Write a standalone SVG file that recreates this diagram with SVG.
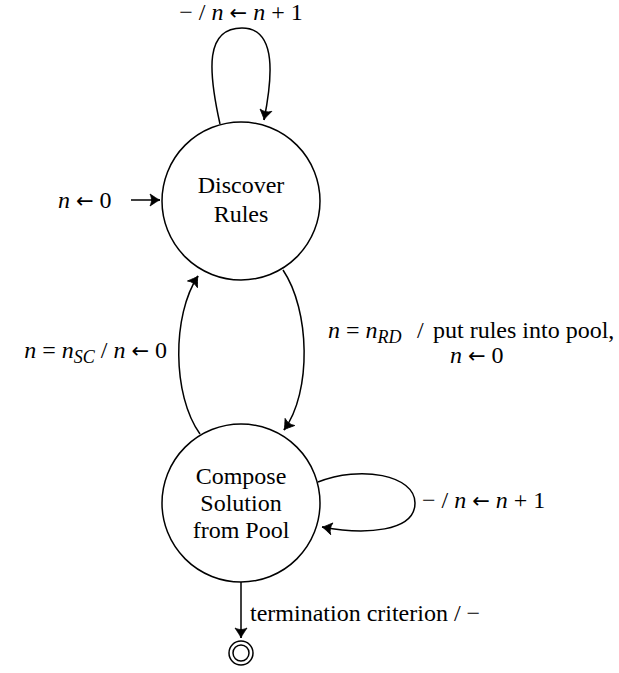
<svg xmlns="http://www.w3.org/2000/svg" width="619" height="673" viewBox="0 0 619 673">
<style>
text{font-family:"Liberation Serif","Times New Roman",serif;font-size:24px;fill:#000}
.i{font-style:italic}
.sub{font-style:italic;font-size:18px}
.ar{font-family:"DejaVu Sans",sans-serif;font-size:21px}
.node{fill:#fff;stroke:#000;stroke-width:1.5}
.edge{fill:none;stroke:#000;stroke-width:1.5}
</style>
<defs>
<marker id="arr" markerUnits="userSpaceOnUse" markerWidth="14" markerHeight="14" viewBox="-11 -7 13 14" refX="0" refY="0" orient="auto">
<path d="M0,0 C-3,-1 -6,-3.5 -10,-6 C-8,-2 -8,2 -10,6 C-6,3.5 -3,1 0,0 Z" fill="#000" stroke="#000" stroke-width="0.8" stroke-linejoin="round"/>
</marker>
</defs>
<rect width="619" height="673" fill="#fff"/>
<g id="connectors">
<path class="edge" d="M220,124 C208,70 205,28 242,28 C278,28 272,80 264,120" marker-end="url(#arr)"/>
<line class="edge" x1="131" y1="200" x2="160" y2="200" marker-end="url(#arr)"/>
<path class="edge" d="M283,270 C310,310 312,392 284,430" marker-end="url(#arr)"/>
<path class="edge" d="M200,434 C172,395 172,315 198,276" marker-end="url(#arr)"/>
<path class="edge" d="M318,482 C360,465 415,475 415,503 C415,532 365,535 322,527" marker-end="url(#arr)"/>
<line class="edge" x1="241" y1="582" x2="241" y2="638" marker-end="url(#arr)"/>
</g>
<g id="discover">
<circle class="node" cx="241" cy="201" r="79"/>
<text x="241" y="193" text-anchor="middle">Discover</text>
<text x="241" y="222" text-anchor="middle">Rules</text>
</g>
<g id="compose">
<circle class="node" cx="241" cy="503" r="79"/>
<text x="241" y="484" text-anchor="middle">Compose</text>
<text x="241" y="511" text-anchor="middle">Solution</text>
<text x="241" y="538" text-anchor="middle">from Pool</text>
</g>
<g id="final">
<circle class="node" cx="241" cy="653" r="12"/>
<circle class="node" cx="241" cy="653" r="8"/>
</g>
<g id="labels">
<text x="241" y="20" text-anchor="middle">− / <tspan class="i">n</tspan> <tspan class="ar">←</tspan> <tspan class="i">n</tspan> + 1</text>
<text x="58" y="208"><tspan class="i">n</tspan> <tspan class="ar">←</tspan> 0</text>
<text x="167" y="358" text-anchor="end"><tspan class="i">n</tspan> = <tspan class="i">n</tspan><tspan class="sub" dy="5">SC</tspan><tspan dy="-5"> / </tspan><tspan class="i">n</tspan> <tspan class="ar">←</tspan> 0</text>
<text x="328" y="338"><tspan class="i">n</tspan> = <tspan class="i">n</tspan><tspan class="sub" dy="5">RD</tspan></text>
<text x="417" y="338">/</text>
<text x="433" y="338">put rules into pool,</text>
<text x="450" y="363"><tspan class="i">n</tspan> <tspan class="ar">←</tspan> 0</text>
<text x="422" y="508">− / <tspan class="i">n</tspan> <tspan class="ar">←</tspan> <tspan class="i">n</tspan> + 1</text>
<text x="250" y="621">termination criterion / −</text>
</g>
</svg>
